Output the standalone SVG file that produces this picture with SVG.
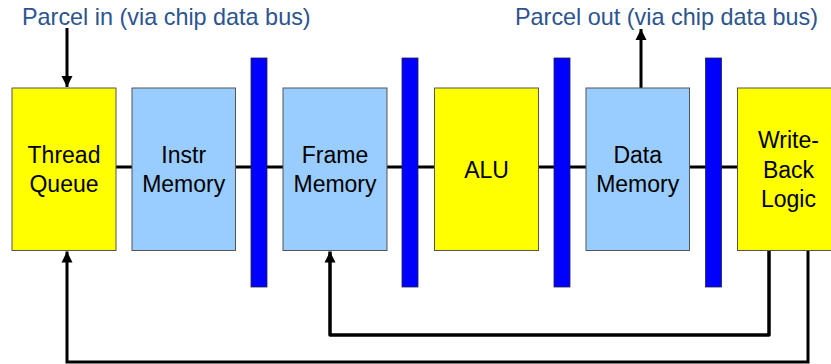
<svg xmlns="http://www.w3.org/2000/svg" width="831" height="364" viewBox="0 0 831 364">
  <style>
    .yellow { fill: #FFFF00; stroke: #555555; stroke-width: 1; }
    .blue { fill: #99CCFF; stroke: #555555; stroke-width: 1; }
    .latch { fill: #0000FF; stroke: #222244; stroke-width: 0.8; }
    .label { font-family: "Liberation Sans", Arial, sans-serif; font-size: 23px; fill: #000000; text-anchor: middle; }
    .title { font-family: "Liberation Sans", Arial, sans-serif; font-size: 23.4px; fill: #2C5490; }
    .wire { fill: none; stroke: #000000; stroke-width: 3; }
  </style>
  <defs>
    <marker id="arrow" markerUnits="userSpaceOnUse" markerWidth="12" markerHeight="12" viewBox="0 0 12 12" refX="11" refY="6" orient="auto">
      <path d="M0,0.5 L11,6 L0,11.5 Z" fill="#000000"/>
    </marker>
  </defs>
  <rect width="831" height="364" fill="#FFFFFF"/>

  <!-- pipeline backbone and feedback paths -->
  <g id="connectors">
    <line class="wire" x1="116" y1="167" x2="737" y2="167"/>
    <line class="wire" x1="67" y1="28" x2="67" y2="87" marker-end="url(#arrow)"/>
    <line class="wire" x1="641" y1="88" x2="641" y2="29" marker-end="url(#arrow)"/>
    <polyline class="wire" style="stroke-width:3.5; stroke-linejoin:round" points="769,250 769,335 330,335 330,251.5" marker-end="url(#arrow)"/>
    <polyline class="wire" points="808,250 808,362 67,362 67,251.5" marker-end="url(#arrow)"/>
  </g>

  <!-- pipeline latches -->
  <g id="latches">
    <rect class="latch" x="251" y="58" width="16" height="229"/>
    <rect class="latch" x="402" y="58" width="16" height="229"/>
    <rect class="latch" x="554" y="58" width="16" height="229"/>
    <rect class="latch" x="705.5" y="58" width="16" height="229"/>
  </g>

  <g id="thread-queue">
    <rect class="yellow" x="12" y="88" width="104" height="162.5"/>
    <text class="label" x="64" y="163">Thread<tspan x="64" y="192">Queue</tspan></text>
  </g>
  <g id="instr-memory">
    <rect class="blue" x="132" y="88" width="103.5" height="162.5"/>
    <text class="label" x="183.7" y="163">Instr<tspan x="183.7" y="192">Memory</tspan></text>
  </g>
  <g id="frame-memory">
    <rect class="blue" x="283" y="88" width="104" height="162.5"/>
    <text class="label" x="335" y="163">Frame<tspan x="335" y="192">Memory</tspan></text>
  </g>
  <g id="alu">
    <rect class="yellow" x="434.5" y="88" width="104" height="162.5"/>
    <text class="label" x="486.5" y="178">ALU</text>
  </g>
  <g id="data-memory">
    <rect class="blue" x="586" y="88" width="103.5" height="162.5"/>
    <text class="label" x="637.7" y="163">Data<tspan x="637.7" y="192">Memory</tspan></text>
  </g>
  <g id="write-back-logic">
    <rect class="yellow" x="737.5" y="88" width="104" height="162.5"/>
    <text class="label" x="788.5" y="148">Write-<tspan x="788.5" y="177.5">Back</tspan><tspan x="788.5" y="207">Logic</tspan></text>
  </g>

  <g id="captions">
    <text class="title" x="22" y="25">Parcel in (via chip data bus)</text>
    <text class="title" x="515" y="25">Parcel out (via chip data bus)</text>
  </g>
</svg>
